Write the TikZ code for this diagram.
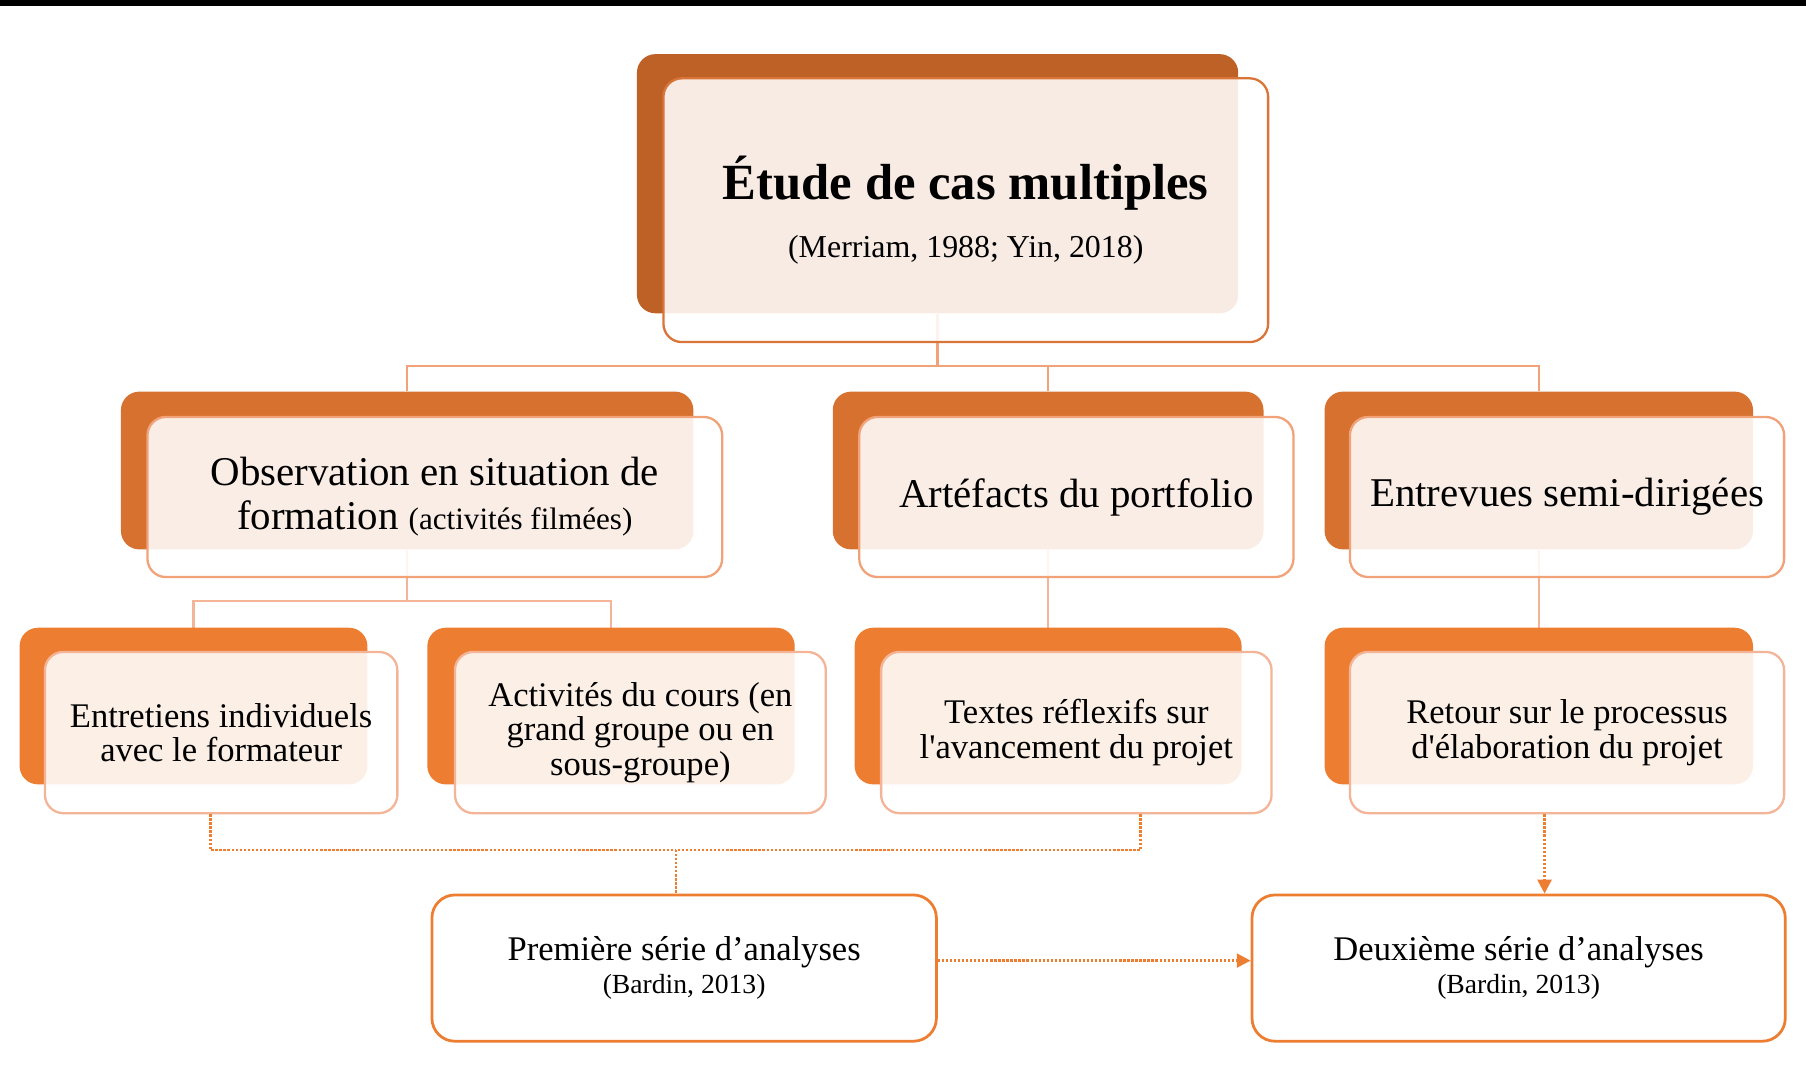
\documentclass[tikz,border=0pt]{standalone}
\usepackage{fontspec}
\setmainfont{Liberation Serif}
\usetikzlibrary{arrows.meta,backgrounds}
\definecolor{topback}{RGB}{190,97,39}
\definecolor{lvtwoback}{RGB}{214,113,47}
\definecolor{lvthreeback}{RGB}{237,125,49}
\definecolor{topborder}{RGB}{217,117,56}
\definecolor{lvtwoborder}{RGB}{241,162,120}
\definecolor{lvthreeborder}{RGB}{244,180,152}
\definecolor{connone}{RGB}{241,162,120}
\definecolor{conntwo}{RGB}{244,180,152}
\definecolor{dotcol}{RGB}{237,125,49}
\tikzset{
  backbox/.style={rounded corners=16pt, inner sep=0pt, draw=none},
  frontbox/.style={rounded corners=16pt, fill=white, fill opacity=0.88, text opacity=1,
    line width=2pt, align=center, inner sep=0pt},
  lvtwotext/.style={font={\fontsize{35.5}{38}\selectfont}},
  lvthreetext/.style={font={\fontsize{30}{30}\selectfont}},
  resbox/.style={rounded corners=20pt, fill=white, draw=dotcol, line width=2.4pt,
    align=center, inner sep=0pt, font={\fontsize{30}{31}\selectfont}},
  treeline/.style={line width=2pt},
  dotline/.style={draw=dotcol, line width=2.4pt, dash pattern=on 2pt off 1.5pt},
  dotarrow/.style={dotline, -{Triangle[length=12pt,width=12pt]}}
}
\begin{document}
\begin{tikzpicture}[x=1pt,y=-1pt]
\useasboundingbox (0,0) rectangle (1568,943);
\fill[black] (0,0) rectangle (1568,5);

% back boxes
\node[backbox, fill=topback, minimum width=522pt, minimum height=225pt] (topb) at (814,159.5) {};
\node[backbox, fill=lvtwoback, minimum width=497pt, minimum height=137pt] (obsb) at (353.5,408.5) {};
\node[backbox, fill=lvtwoback, minimum width=374pt, minimum height=137pt] (artb) at (910,408.5) {};
\node[backbox, fill=lvtwoback, minimum width=372pt, minimum height=137pt] (entb) at (1336,408.5) {};
\node[backbox, fill=lvthreeback, minimum width=302pt, minimum height=136pt] (e3b) at (168,613) {};
\node[backbox, fill=lvthreeback, minimum width=319pt, minimum height=136pt] (actb) at (530.5,613) {};
\node[backbox, fill=lvthreeback, minimum width=336pt, minimum height=136pt] (txtb) at (910,613) {};
\node[backbox, fill=lvthreeback, minimum width=372pt, minimum height=136pt] (retb) at (1336,613) {};

% front boxes
\node[frontbox, draw=topborder, minimum width=525pt, minimum height=229pt,
      font={\fontsize{44}{50}\selectfont}] (top) at (838.5,182.5)
  {\bfseries Étude de cas multiples\\
   {\fontsize{27.7}{33}\selectfont (Merriam, 1988; Yin, 2018)}};
\node[frontbox, lvtwotext, draw=lvtwoborder, minimum width=499pt, minimum height=139pt] (obs) at (377.5,431.5)
  {Observation en situation de\\
   formation {\fontsize{27}{30}\selectfont (activités filmées)}};
\node[frontbox, lvtwotext, draw=lvtwoborder, minimum width=377pt, minimum height=139pt] (art) at (934.5,431.5)
  {Artéfacts du portfolio};
\node[frontbox, lvtwotext, draw=lvtwoborder, minimum width=377pt, minimum height=139pt] (ent) at (1360.5,431.5)
  {Entrevues semi-dirigées};
\node[frontbox, lvthreetext, draw=lvthreeborder, minimum width=306pt, minimum height=140pt] (e3) at (192,636)
  {Entretiens individuels\\ avec le formateur};
\node[frontbox, lvthreetext, draw=lvthreeborder, minimum width=322pt, minimum height=140pt] (act) at (556,636)
  {Activités du cours (en\\ grand groupe ou en\\ sous-groupe)};
\node[frontbox, lvthreetext, draw=lvthreeborder, minimum width=339pt, minimum height=140pt] (txt) at (934.5,636)
  {Textes réflexifs sur\\ l\textquotesingle avancement du projet};
\node[frontbox, lvthreetext, draw=lvthreeborder, minimum width=377pt, minimum height=140pt] (ret) at (1360.5,636)
  {Retour sur le processus\\ d\textquotesingle élaboration du projet};

% result boxes
\node[resbox, minimum width=438pt, minimum height=127pt] (prem) at (594,840.5)
  {Première série d’analyses\\[-2pt]
   {\fontsize{24}{28}\selectfont (Bardin, 2013)}};
\node[resbox, minimum width=463pt, minimum height=127pt] (deux) at (1318.5,840.5)
  {Deuxième série d’analyses\\[-2pt]
   {\fontsize{24}{28}\selectfont (Bardin, 2013)}};

% tree connectors (behind boxes)
\begin{pgfonlayer}{background}
\coordinate (j1) at (814,318);
\draw[treeline, connone] (topb.south) -- (j1);
\draw[treeline, connone] (obsb.north) |- (j1) -| (entb.north);
\draw[treeline, connone] (artb.north) -- (artb.north |- j1);
\coordinate (j2) at (353.5,522);
\draw[treeline, conntwo] (obsb.south) -- (j2);
\draw[treeline, conntwo] (e3b.north) |- (j2) -| (actb.north);
\draw[treeline, conntwo] (artb.south) -- (txtb.north);
\draw[treeline, conntwo] (entb.south) -- (retb.north);
\end{pgfonlayer}

% dotted connectors
\coordinate (jd) at (587,738);
\coordinate (es) at ([xshift=-9pt]e3.south);
\coordinate (ts) at ([xshift=55.5pt]txt.south);
\coordinate (rs) at ([xshift=-19.5pt]ret.south);
\coordinate (pe) at ([yshift=6.5pt]prem.east);
\draw[dotline] (es) |- (jd);
\draw[dotline] (ts) |- (jd);
\draw[dotline] (jd) -- (jd |- prem.north);
\draw[dotarrow] (rs) -- (rs |- deux.north);
\draw[dotarrow] (pe) -- (pe -| deux.west);
\end{tikzpicture}
\end{document}
